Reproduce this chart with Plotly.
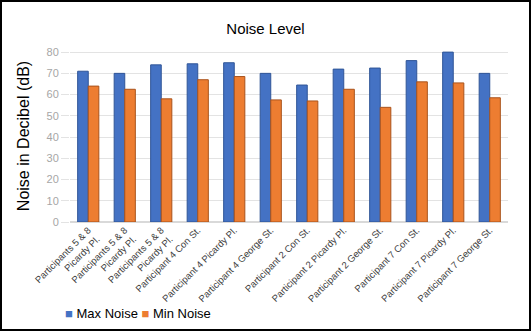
import plotly.graph_objects as go

# datos
categorias = [
    "Participants 5 & 8<br>Picardy Pl.",
    "Participants 5 & 8<br>Picardy Pl.",
    "Participants 5 & 8<br>Picardy Pl.",
    "Participant 4 Con St.",
    "Participant 4 Picardy Pl.",
    "Participant 4 George St.",
    "Participant 2 Con St.",
    "Participant 2 Picardy Pl.",
    "Participant 2 George St.",
    "Participant 7 Con St.",
    "Participant 7 Picardy Pl.",
    "Participant 7 George St.",
]
max_noise = [71, 70, 74, 74.5, 75, 70, 64.5, 72, 72.5, 76, 80, 70]
min_noise = [64, 62.5, 58, 67, 68.5, 57.5, 57, 62.5, 54, 66, 65.5, 58.5]
y_ticks = [0, 10, 20, 30, 40, 50, 60, 70, 80]

azul, naranja = "#4472C4", "#ED7D31"

# posiciones numericas para que las categorias repetidas no se junten
x_pos = list(range(len(categorias)))

fig = go.Figure()
fig.add_trace(go.Bar(x=x_pos, y=max_noise, name="Max Noise",
                     marker=dict(color=azul, line=dict(color="#2F5597", width=1))))
fig.add_trace(go.Bar(x=x_pos, y=min_noise, name="Min Noise",
                     marker=dict(color=naranja, line=dict(color="#A9531C", width=1))))

L, R, T, B = 70, 23, 50, 109
pw, ph = 531 - L - R, 331 - T - B

fig.update_layout(
    width=531, height=331,
    template="plotly_white",
    font=dict(family="Arial", color="#404040"),
    title=dict(text="Noise Level", x=0.5, xanchor="center", y=0.93,
               font=dict(size=15, color="#000000")),
    barmode="group", bargap=0.42, bargroupgap=0.0,
    margin=dict(l=L, r=R, t=T, b=B, autoexpand=False),
    plot_bgcolor="white", paper_bgcolor="white",
    showlegend=False,
)
fig.update_xaxes(
    tickmode="array", tickvals=x_pos, ticktext=categorias,
    tickangle=-45, tickfont=dict(size=9.5, color="#404040"),
    showgrid=False, showline=False, range=[-0.5, 11.5],
)
fig.update_yaxes(
    title=dict(text="Noise in Decibel (dB)", font=dict(size=16, color="#000000"), standoff=12),
    range=[0, 81], tickvals=y_ticks, tickfont=dict(size=11, color="#A6A6A6"),
    showgrid=True, gridcolor="#E3E3E3", gridwidth=1, zeroline=True, zerolinecolor="#D9D9D9",
    ticks="outside", ticklen=8, tickcolor="#E3E3E3",
)

# leyenda al estilo Excel: cuadritos pegados al texto
leyenda = (f"<span style='color:{azul}'>■</span> Max Noise "
           f"<span style='color:{naranja}'>■</span> Min Noise")
fig.add_annotation(text=leyenda, xref="paper", yref="paper",
                   x=(63 - L) / pw, y=(222 - 313) / ph, xanchor="left", yanchor="middle",
                   showarrow=False, font=dict(size=13, color="#000000"))

# marco negro alrededor de toda la imagen
fig.add_shape(type="rect", xref="paper", yref="paper",
              x0=-(L - 1) / pw, x1=1 + (R - 1) / pw, y0=-(B - 1) / ph, y1=1 + (T - 1) / ph,
              line=dict(color="black", width=2))

# sin margen en la pagina para que la figura quede en la esquina
fig.write_html("out.html", config={"displayModeBar": False},
               post_script="document.body.style.margin='0';")
